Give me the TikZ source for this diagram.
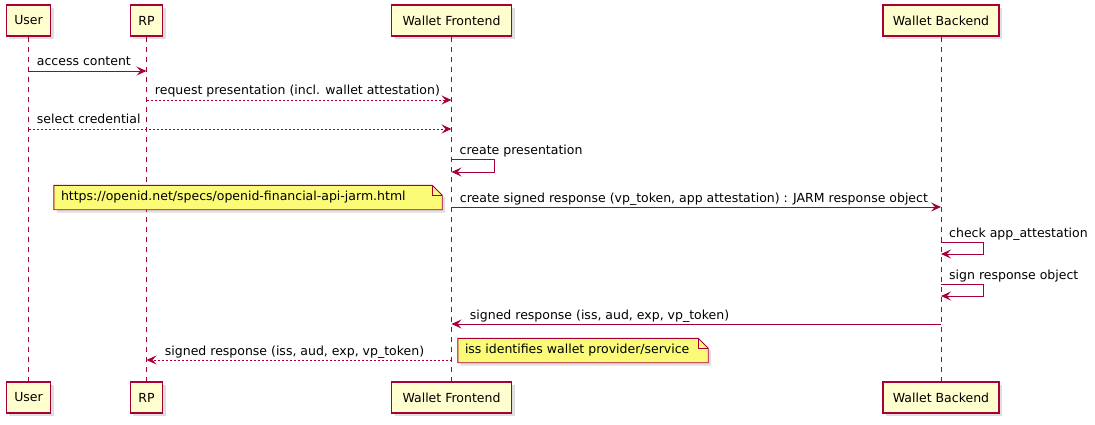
\documentclass[tikz,border=0pt]{standalone}
\usepackage{fontspec}
\setmainfont{DejaVu Sans}
\usepackage{tikz}
\usetikzlibrary{arrows.meta,shadows}
\definecolor{umlred}{HTML}{A80036}
\definecolor{umlbox}{HTML}{FEFECE}
\definecolor{umlnote}{HTML}{FBFB77}
\tikzstyle{actor} = [rectangle, draw=umlred, line width=1.2pt, fill=umlbox,
    minimum height=31pt, inner xsep=8pt, font=\fontsize{12.5}{15}\selectfont,
    drop shadow={shadow xshift=3pt, shadow yshift=-3pt, opacity=0.25}]
\tikzstyle{lifeline} = [draw=umlred, line width=0.8pt, dash pattern=on 5pt off 5pt]
\tikzstyle{msg} = [draw=umlred, line width=0.9pt, -{Stealth[length=10pt,width=9pt,inset=4pt]}]
\tikzstyle{reply} = [msg, dash pattern=on 2pt off 2pt]
\tikzstyle{lbl} = [anchor=base west, inner sep=0pt, font=\fontsize{12.5}{15}\selectfont, text=black]
\tikzstyle{note} = [rectangle, inner sep=0pt, minimum height=24pt, font=\fontsize{12.5}{15}\selectfont]
\tikzstyle{notepaper} = [draw=umlred, line width=0.9pt, fill=umlnote,
    drop shadow={shadow xshift=3pt, shadow yshift=-3pt, opacity=0.25}]

\begin{document}
\begin{tikzpicture}[x=1pt, y=-1pt]
    \useasboundingbox (0,0) rectangle (1095,425);
    % Participants
    \node [actor] (userT) at (28.5,20.5) {User};
    \node [actor] (rpT) at (146.5,20.5) {RP};
    \node [actor, minimum width=120pt] (wfT) at (451.5,20.5) {Wallet Frontend};
    \node [actor, minimum width=116pt] (wbT) at (941,20.5) {Wallet Backend};
    \node [actor] (userB) at (28.5,397.5) {User};
    \node [actor] (rpB) at (146.5,397.5) {RP};
    \node [actor, minimum width=120pt] (wfB) at (451.5,397.5) {Wallet Frontend};
    \node [actor, minimum width=116pt] (wbB) at (941,397.5) {Wallet Backend};

    % Lifelines
    \draw [lifeline] (userT) -- (userB);
    \draw [lifeline] (rpT) -- (rpB);
    \draw [lifeline] (wfT) -- (wfB);
    \draw [lifeline] (wbT) -- (wbB);

    % Message ends
    \coordinate (accU) at (userT |- 0,71);
    \coordinate (accR) at (rpT |- 0,71);
    \coordinate (reqR) at (rpT |- 0,100);
    \coordinate (reqF) at (wfT |- 0,100);
    \coordinate (selU) at (userT |- 0,129);
    \coordinate (selF) at (wfT |- 0,129);
    \coordinate (crpA) at (wfT |- 0,159);
    \coordinate (crpB) at (wfT |- 0,172);
    \coordinate (sigF) at (wfT |- 0,207);
    \coordinate (sigB) at (wbT |- 0,207);
    \coordinate (chkA) at (wbT |- 0,242);
    \coordinate (chkB) at (wbT |- 0,254);
    \coordinate (sroA) at (wbT |- 0,284);
    \coordinate (sroB) at (wbT |- 0,296);
    \coordinate (resB) at (wbT |- 0,324);
    \coordinate (resF) at (wfT |- 0,324);
    \coordinate (fwdF) at (wfT |- 0,360);
    \coordinate (fwdR) at (rpT |- 0,360);

    % Messages
    \draw [msg] (accU) -- (accR) node[lbl, pos=0, xshift=8pt, yshift=5pt] {access content};
    \draw [reply] (reqR) -- (reqF) node[lbl, pos=0, xshift=8pt, yshift=5pt] {request presentation (incl. wallet attestation)};
    \draw [reply] (selU) -- (selF) node[lbl, pos=0, xshift=8pt, yshift=5pt] {select credential};
    \draw [msg] (crpA) -- ++(43,0) -- ++(0,13) -- (crpB);
    \node [lbl, xshift=8pt, yshift=5pt] (crpL) at (crpA) {create presentation};
    \draw [msg] (sigF) -- (sigB) node[lbl, pos=0, xshift=8pt, yshift=5pt] {create signed response (vp\_token, app attestation) : JARM response object};
    \draw [msg] (chkA) -- ++(42,0) -- ++(0,12) -- (chkB);
    \node [lbl, xshift=8pt, yshift=5pt] (chkL) at (chkA) {check app\_attestation};
    \draw [msg] (sroA) -- ++(42,0) -- ++(0,12) -- (sroB);
    \node [lbl, xshift=8pt, yshift=5pt] (sroL) at (sroA) {sign response object};
    \draw [msg] (resB) -- (resF) node[lbl, pos=1, xshift=18pt, yshift=5pt] {signed response (iss, aud, exp, vp\_token)};
    \draw [reply] (fwdF) -- (fwdR) node[lbl, pos=1, xshift=18pt, yshift=5pt] {signed response (iss, aud, exp, vp\_token)};

    % Notes
    \node [note, minimum width=388pt] (jarm) at (248,197.5) {};
    \path [notepaper] (jarm.south west) -- (jarm.north west) -- ([xshift=-10pt]jarm.north east)
        -- ([yshift=-10pt]jarm.north east) -- (jarm.south east) -- cycle;
    \draw [umlred, line width=0.9pt] ([xshift=-10pt]jarm.north east) |- ([yshift=-10pt]jarm.north east);
    \node [note, anchor=west, xshift=7pt] at (jarm.west) {https://openid.net/specs/openid-financial-api-jarm.html};

    \node [note, minimum width=250pt] (issn) at (583,350.5) {};
    \path [notepaper] (issn.south west) -- (issn.north west) -- ([xshift=-10pt]issn.north east)
        -- ([yshift=-10pt]issn.north east) -- (issn.south east) -- cycle;
    \draw [umlred, line width=0.9pt] ([xshift=-10pt]issn.north east) |- ([yshift=-10pt]issn.north east);
    \node [note, anchor=west, xshift=7pt] at (issn.west) {iss identifies wallet provider/service};
\end{tikzpicture}
\end{document}
